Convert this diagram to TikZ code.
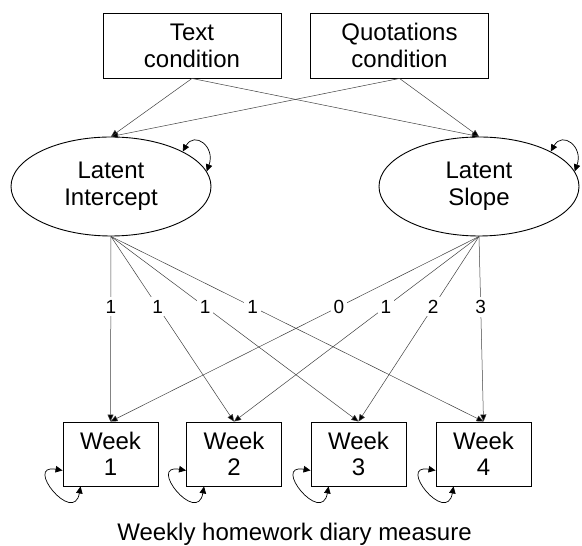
\documentclass[tikz,border=0pt]{standalone}
\usepackage{fontspec}
\setmainfont{Liberation Sans}
\usetikzlibrary{arrows.meta,shapes.geometric}
\begin{document}
\begin{tikzpicture}[x=1pt,y=1pt]
\tikzstyle{every node}+=[inner sep=2pt]
\tikzstyle{cond}=[draw=black,line width=0.9pt,minimum width=178pt,minimum height=65pt,align=center,font=\fontsize{24}{27}\selectfont]
\tikzstyle{latent}=[draw=black,ellipse,line width=0.9pt,minimum width=200pt,minimum height=99pt,align=center,font=\fontsize{24}{27}\selectfont]
\tikzstyle{week}=[draw=black,line width=0.9pt,minimum width=95pt,minimum height=64pt,align=center,font=\fontsize{24}{26}\selectfont]
\tikzstyle{reg}=[draw=black!75,line width=0.5pt,-{Triangle[length=7pt,width=6pt,fill=black]}]
\tikzstyle{load}=[fill=white,inner sep=3pt,font=\fontsize{19}{21}\selectfont]
\tikzstyle{resid}=[draw=black,line width=0.7pt,{Triangle[length=7pt,width=6.5pt]}-{Triangle[length=7pt,width=6.5pt]}]
\useasboundingbox (0,0) rectangle (582,546);

\node[cond] (txt) at (192,500.5) {Text\\condition};
\node[cond] (quot) at (399.5,500.5) {Quotations\\condition};
\node[latent] (icept) at (111,359.5) {Latent\\Intercept};
\node[latent] (slope) at (479,359.5) {Latent\\Slope};
\node[week] (w1) at (110.5,92) {Week\\1};
\node[week] (w2) at (234,92) {Week\\2};
\node[week] (w3) at (358.5,92) {Week\\3};
\node[week] (w4) at (483.5,92) {Week\\4};
\node[anchor=base,font=\fontsize{24}{27}\selectfont] (caption) at (294.5,5) {Weekly homework diary measure};

\draw[reg] (txt.south) -- (icept.north);
\draw[reg] (txt.south) -- (slope.north);
\draw[reg] (quot.south) -- (icept.north);
\draw[reg] (quot.south) -- (slope.north);

\foreach \w in {w1,w2,w3,w4}
  \draw[reg] (icept.south) -- node[load,pos=0.38] {1} (\w.north);
\foreach \w/\l in {w1/0,w2/1,w3/2,w4/3}
  \draw[reg] (slope.south) -- node[load,pos=0.38] {\l} (\w.north);

\draw[resid] (icept.26) .. controls +(60:24) and +(70:26) .. (icept.9);
\draw[resid] (slope.26) .. controls +(60:24) and +(70:26) .. (slope.9);
\foreach \w in {w1,w2,w3,w4}
  \draw[resid] ([yshift=16pt]\w.south west) .. controls +(170:40) and +(-100:40) .. ([xshift=18pt]\w.south west);
\end{tikzpicture}
\end{document}
